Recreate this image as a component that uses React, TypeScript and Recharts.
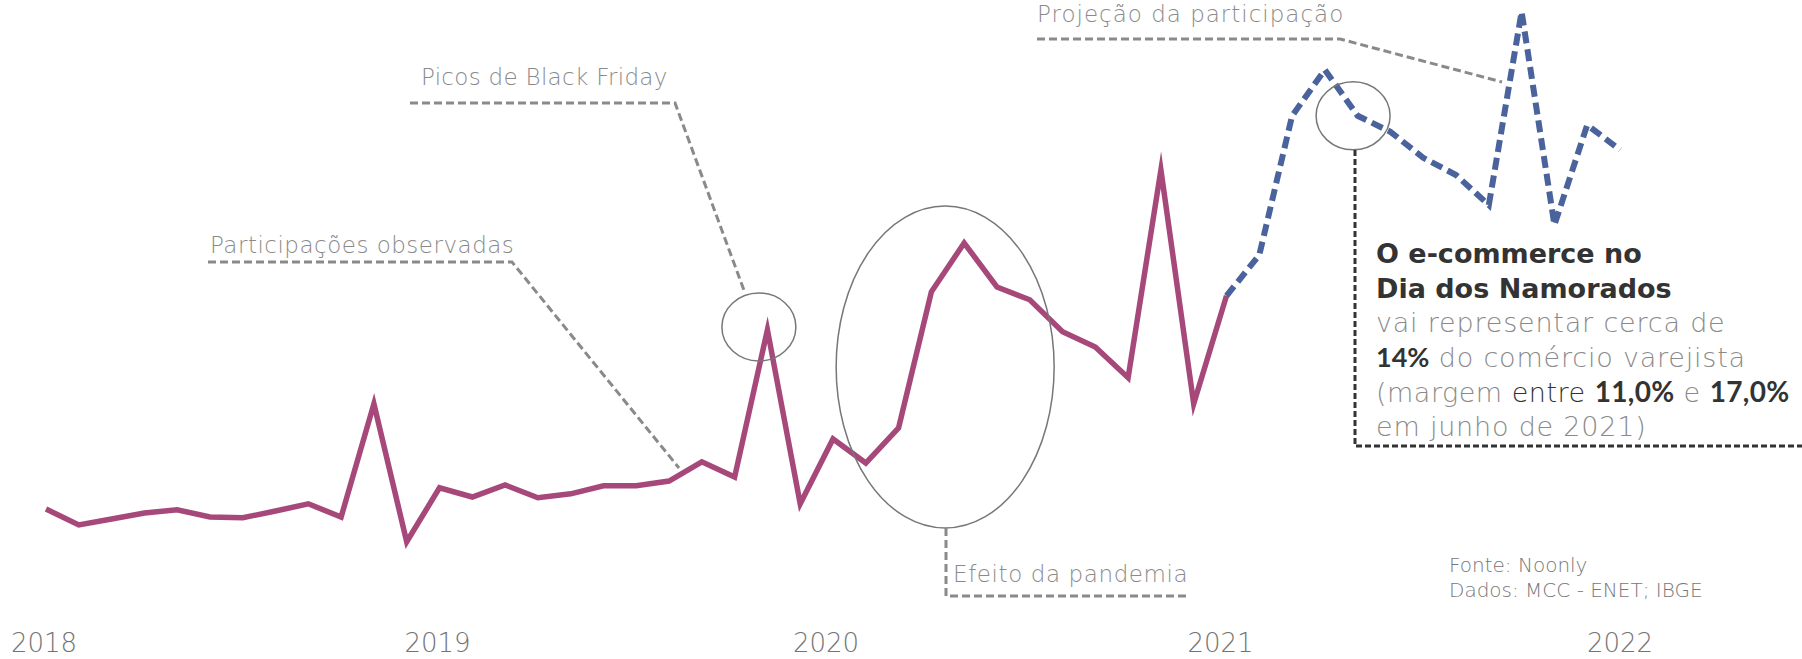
import { LineChart, Line, XAxis, YAxis, ReferenceDot } from "recharts";

// monthly share of e-commerce in retail (%), jan/2018 .. jan/2022
const months = [
  "jan/18", "fev/18", "mar/18", "abr/18", "mai/18", "jun/18", "jul/18", "ago/18", "set/18", "out/18", "nov/18", "dez/18",
  "jan/19", "fev/19", "mar/19", "abr/19", "mai/19", "jun/19", "jul/19", "ago/19", "set/19", "out/19", "nov/19", "dez/19",
  "jan/20", "fev/20", "mar/20", "abr/20", "mai/20", "jun/20", "jul/20", "ago/20", "set/20", "out/20", "nov/20", "dez/20",
  "jan/21", "fev/21", "mar/21", "abr/21", "mai/21", "jun/21", "jul/21", "ago/21", "set/21", "out/21", "nov/21", "dez/21",
  "jan/22",
];

const observed = [
  4.15, 3.75, 3.9, 4.05, 4.13, 3.95, 3.93, 4.1, 4.28, 3.95, 6.78, 3.33,
  4.68, 4.45, 4.75, 4.43, 4.53, 4.73, 4.73, 4.85, 5.33, 4.95, 8.63, 4.28,
  5.9, 5.3, 6.18, 9.58, 10.8, 9.7, 9.38, 8.58, 8.2, 7.43, 12.63, 6.78,
  9.48,
];

// projection starts on the last observed month
const projected = [9.48, 10.5, 13.98, 15.13, 13.98, 13.58, 12.93, 12.5, 11.75, 16.58, 11.25, 13.75, 13.13];

const yearTicks = [0, 12, 24, 36, 48];
const yearLabels = ["2018", "2019", "2020", "2021", "2022"];

const projStart = observed.length - 1;

const data = months.map((month, i) => ({
  i,
  month,
  observed: i < observed.length ? observed[i] : null,
  projected: i >= projStart ? projected[i - projStart] : null,
}));

const FONT = "'DejaVu Sans', sans-serif";
const NUM_FONT = "Lato, 'DejaVu Sans', sans-serif";
const GREY = "#8a8a8a";
const DARK = "#333333";

// the year labels in the original sit a few px left of their january
const labelNudge = [-2, -2, -7, -6, 0];

function YearTick(props: any) {
  const { x, payload } = props;
  const idx = yearTicks.indexOf(payload.value);
  return (
    <text x={x + labelNudge[idx]} y={652} textAnchor="middle" fontFamily={FONT} fontWeight={300} fontSize={26} fill="#737373">
      {yearLabels[idx]}
    </text>
  );
}

const ring = (rx: number, ry: number) => (p: any) => (
  <ellipse cx={p.cx} cy={p.cy} rx={rx} ry={ry} fill="none" stroke="#777" strokeWidth={1.5} />
);

export default function App() {
  return (
    <div style={{ position: "absolute", left: 0, top: 0, width: 1802, height: 659, background: "#fff" }}>
      <LineChart width={1802} height={659} data={data} margin={{ top: 5, right: 182, bottom: 0, left: 46 }}>
        <XAxis
          dataKey="i"
          type="number"
          domain={[0, 48]}
          ticks={yearTicks}
          height={84}
          axisLine={false}
          tickLine={false}
          tick={<YearTick />}
        />
        <YAxis hide domain={[2.5, 16.75]} />
        <ReferenceDot x={21.74} y={8.7} shape={ring(37, 34)} />
        <ReferenceDot x={27.42} y={7.7} shape={ring(109, 161)} />
        <ReferenceDot x={39.86} y={13.98} shape={ring(37, 34)} />
        <Line
          type="linear"
          dataKey="observed"
          stroke="#a6497a"
          strokeWidth={5.5}
          strokeMiterlimit={10}
          dot={false}
          isAnimationActive={false}
        />
        <Line
          type="linear"
          dataKey="projected"
          stroke="#4a639c"
          strokeWidth={6}
          strokeDasharray="12 6"
          dot={false}
          isAnimationActive={false}
        />
      </LineChart>

      <svg width={1802} height={659} style={{ position: "absolute", left: 0, top: 0, pointerEvents: "none" }}>
        <g fill="none" stroke="#8a8a8a" strokeWidth={3} strokeDasharray="8 4">
          <path d="M410,103 H675 L745,293" />
          <path d="M208,262 H512 L679,468" />
          <path d="M1037,39 H1340 L1502,82" />
          <path d="M946,528 V596 H1187" />
        </g>
        <path d="M1355,150 V446 H1802" fill="none" stroke={DARK} strokeWidth={3} strokeDasharray="6 3" />

        <g fontFamily={FONT} fontWeight={300} fontSize={23} fill={GREY}>
          <text x={421} y={85} letterSpacing={0.3}>Picos de Black Friday</text>
          <text x={210} y={253} letterSpacing={0.5}>Participações observadas</text>
          <text x={1037} y={22} letterSpacing={1}>Projeção da participação</text>
          <text x={953} y={582} letterSpacing={0.6}>Efeito da pandemia</text>
        </g>
        <g fontFamily={FONT} fontWeight={300} fontSize={20} fill="#777">
          <text x={1449} y={572}>Fonte: Noonly</text>
          <text x={1449} y={597}>Dados: MCC - ENET; IBGE</text>
        </g>

        <g fontFamily={FONT} fontSize={27} fontWeight={300}>
          <text x={1376} y={263} fill={DARK} fontWeight="bold">O e-commerce no</text>
          <text x={1376} y={298} fill={DARK} fontWeight="bold">Dia dos Namorados</text>
          <text x={1376} y={332} fill={GREY} letterSpacing={0.8}>vai representar cerca de</text>
          <text x={1376} y={367} fill={GREY} letterSpacing={0.8}>
            <tspan fill={DARK} fontFamily={NUM_FONT} fontWeight="bold" letterSpacing={0}>14%</tspan> do comércio varejista
          </text>
          <text x={1376} y={402} fill={GREY} letterSpacing={0.5}>
            (margem <tspan fill={DARK}>entre</tspan>{" "}
            <tspan fill={DARK} fontFamily={NUM_FONT} fontSize={28} fontWeight="bold" letterSpacing={0.3}>11,0%</tspan> e{" "}
            <tspan fill={DARK} fontFamily={NUM_FONT} fontSize={28} fontWeight="bold" letterSpacing={0.3}>17,0%</tspan>
          </text>
          <text x={1376} y={436} fill={GREY} letterSpacing={0.8}>em junho de 2021)</text>
        </g>
      </svg>
    </div>
  );
}
